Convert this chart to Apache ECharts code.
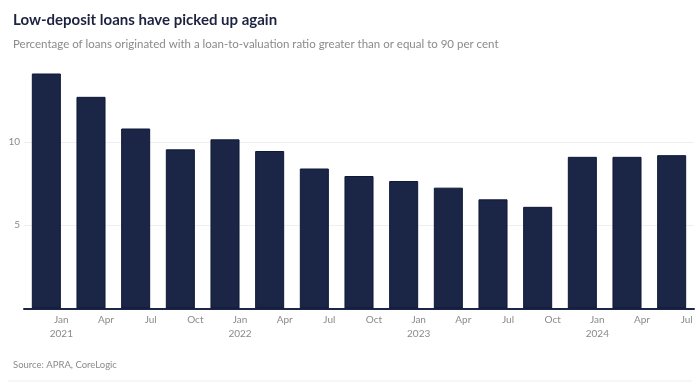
<!DOCTYPE html>
<html><head><meta charset="utf-8">
<script src="https://cdn.jsdelivr.net/npm/echarts@6/dist/echarts.min.js"></script>
<style>html,body{margin:0;padding:0;background:#fff}#c{width:700px;height:389px}</style>
</head><body><div id="c"></div>
<script>
const quarters = ['Jan','Apr','Jul','Oct','Jan','Apr','Jul','Oct','Jan','Apr','Jul','Oct','Jan','Apr','Jul'];
const years = ['2021','','','','2022','','','','2023','','','','2024','',''];
const values = [14.1, 12.7, 10.8, 9.55, 10.15, 9.45, 8.4, 7.95, 7.65, 7.25, 6.55, 6.1, 9.1, 9.1, 9.2];
const yTicks = [5, 10];

const categories = quarters.map((q, i) => years[i] ? q + '\n' + years[i] : q);
const chart = echarts.init(document.getElementById('c'), null, {renderer: 'canvas'});
chart.setOption({
  animation: false,
  backgroundColor: '#fff',
  title: [
    {text: 'Low-deposit loans have picked up again', left: 8, top: 8,
     textStyle: {fontFamily: 'Lato', fontWeight: 'bold', fontSize: 15, color: '#1c2340'}},
    {text: 'Percentage of loans originated with a loan-to-valuation ratio greater than or equal to 90 per cent', left: 8, top: 33,
     textStyle: {fontFamily: 'Lato', fontWeight: 'normal', fontSize: 11.5, color: '#8a8a8a'}},
    {text: 'Source: APRA, CoreLogic', left: 8, top: 355,
     textStyle: {fontFamily: 'Lato', fontWeight: 'normal', fontSize: 9.5, color: '#8a8a8a'}}
  ],
  graphic: [{type: 'line', shape: {x1: 8, y1: 381, x2: 692, y2: 381}, style: {stroke: '#eeeeee', lineWidth: 1}}],
  grid: {left: 24, right: 6, top: 58.5, bottom: 80.5},
  xAxis: {
    type: 'category', data: categories,
    axisLine: {lineStyle: {color: '#1c2646', width: 2}},
    axisTick: {show: false},
    axisLabel: {color: '#8a8a8a', fontFamily: 'Lato', fontSize: 10, lineHeight: 14, margin: 4, padding: [0, 0, 0, 30], interval: 0}
  },
  yAxis: {
    type: 'value', min: 0, max: 15, interval: 5,
    axisLine: {show: false}, axisTick: {show: false},
    axisLabel: {color: '#8a8a8a', fontFamily: 'Lato', fontSize: 10, margin: 4,
      formatter: v => yTicks.indexOf(v) >= 0 ? String(v) : ''},
    splitLine: {lineStyle: {color: ['transparent', '#efefef', '#efefef', 'transparent'], width: 1}}
  },
  series: [{
    type: 'bar', data: values, barCategoryGap: '35%',
    itemStyle: {color: '#1b2647', borderColor: '#0e1838', borderWidth: 1}
  }]
});
</script></body></html>
